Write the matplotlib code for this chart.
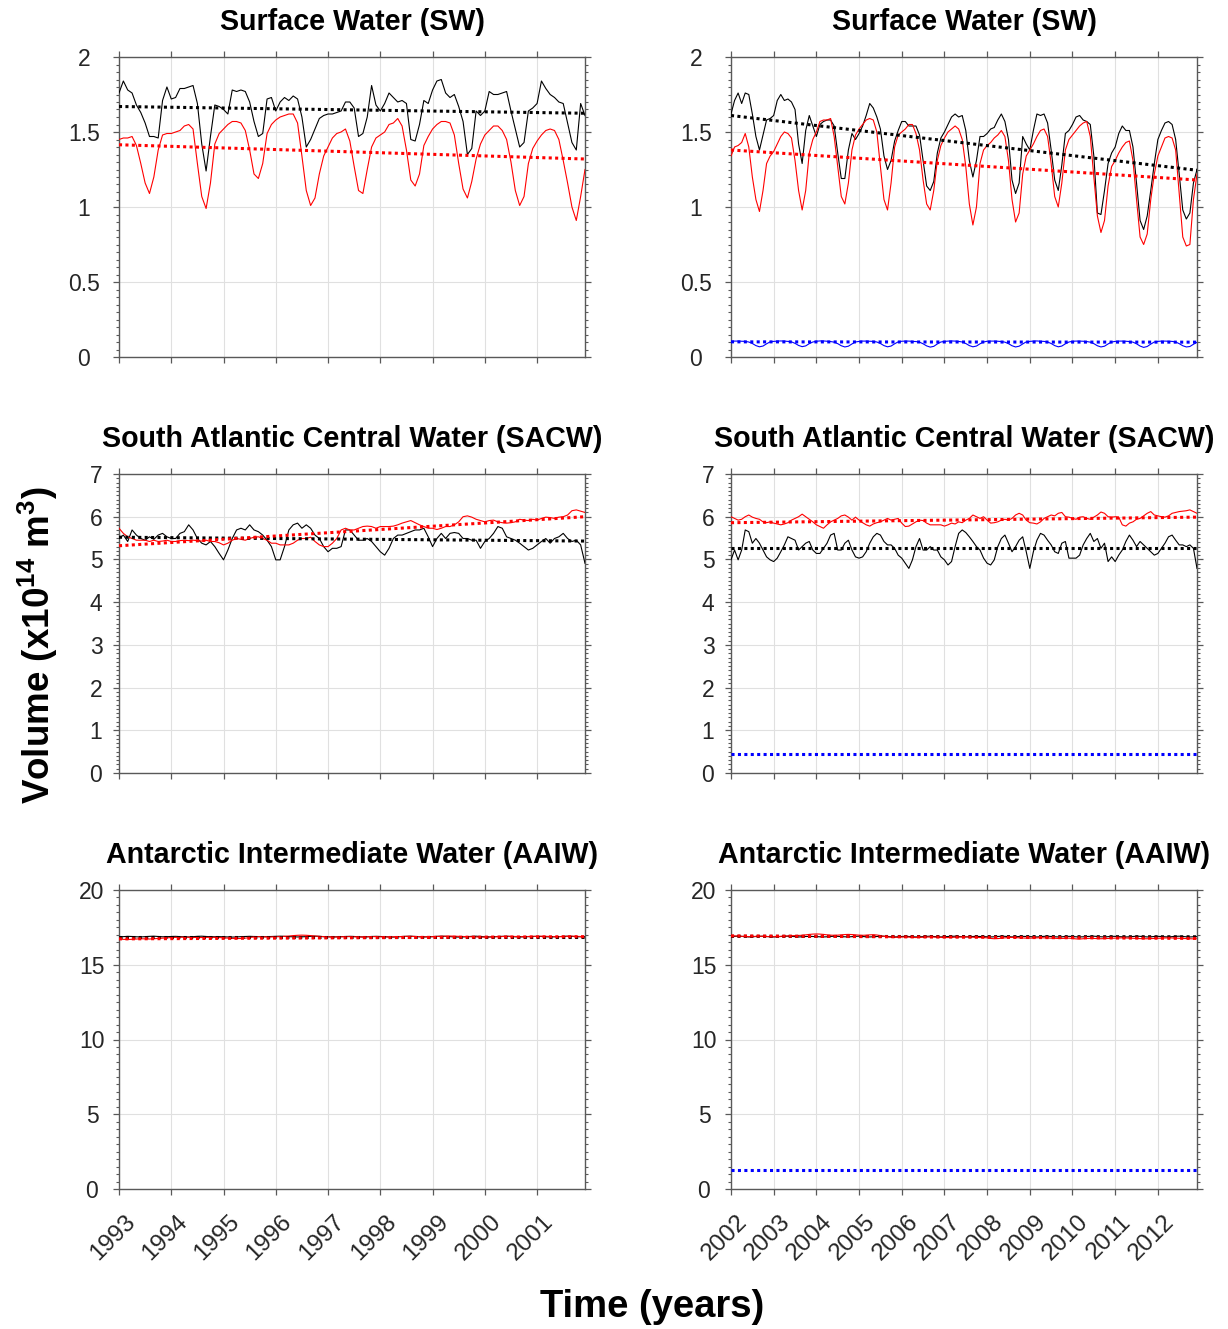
import numpy as np
import matplotlib
matplotlib.use('Agg')
import matplotlib.pyplot as plt
from matplotlib.ticker import MultipleLocator
from matplotlib.transforms import ScaledTranslation

plt.rcParams['font.family'] = ['Liberation Sans', 'DejaVu Sans']
plt.rcParams['mathtext.fontset'] = 'custom'
plt.rcParams['mathtext.rm'] = 'Liberation Sans'
plt.rcParams['mathtext.bf'] = 'Liberation Sans:bold'

# ---------------- data ----------------
years_left = list(range(1993, 2002))
years_right = list(range(2002, 2013))

titles = ['Surface Water (SW)', 'South Atlantic Central Water (SACW)',
          'Antarctic Intermediate Water (AAIW)']

# Surface water, 1993-2001 (monthly)
sw_obs_left = [
    1.76, 1.84, 1.78, 1.76, 1.68, 1.63, 1.56, 1.47, 1.47, 1.46, 1.71, 1.80,
    1.72, 1.73, 1.79, 1.79, 1.80, 1.81, 1.69, 1.42, 1.24, 1.47, 1.68, 1.67,
    1.65, 1.62, 1.78, 1.77, 1.78, 1.77, 1.70, 1.57, 1.47, 1.49, 1.72, 1.73,
    1.64, 1.70, 1.73, 1.71, 1.74, 1.72, 1.60, 1.40, 1.45, 1.52, 1.59, 1.61,
    1.62, 1.62, 1.63, 1.64, 1.70, 1.70, 1.66, 1.47, 1.49, 1.60, 1.81, 1.68,
    1.64, 1.69, 1.76, 1.73, 1.70, 1.71, 1.69, 1.45, 1.44, 1.55, 1.71, 1.69,
    1.78, 1.84, 1.85, 1.76, 1.73, 1.75, 1.67, 1.57, 1.35, 1.39, 1.64, 1.61,
    1.64, 1.77, 1.75, 1.75, 1.76, 1.77, 1.64, 1.52, 1.40, 1.43, 1.64, 1.66,
    1.69, 1.84, 1.79, 1.75, 1.73, 1.70, 1.69, 1.56, 1.43, 1.38, 1.69, 1.61]
sw_mod_left = [
    1.45, 1.46, 1.46, 1.47, 1.41, 1.29, 1.16, 1.09, 1.20, 1.38, 1.48, 1.49,
    1.49, 1.50, 1.51, 1.54, 1.55, 1.52, 1.29, 1.07, 0.99, 1.16, 1.42, 1.49,
    1.52, 1.55, 1.57, 1.57, 1.56, 1.51, 1.38, 1.22, 1.19, 1.29, 1.49, 1.55,
    1.58, 1.60, 1.61, 1.62, 1.62, 1.56, 1.34, 1.11, 1.01, 1.06, 1.22, 1.34,
    1.40, 1.46, 1.49, 1.50, 1.52, 1.44, 1.27, 1.11, 1.09, 1.25, 1.40, 1.46,
    1.48, 1.50, 1.55, 1.56, 1.59, 1.54, 1.38, 1.18, 1.14, 1.22, 1.41, 1.47,
    1.52, 1.55, 1.57, 1.57, 1.56, 1.48, 1.29, 1.12, 1.06, 1.17, 1.32, 1.42,
    1.48, 1.51, 1.54, 1.54, 1.51, 1.45, 1.30, 1.11, 1.01, 1.07, 1.29, 1.39,
    1.44, 1.48, 1.51, 1.52, 1.51, 1.45, 1.31, 1.16, 1.00, 0.91, 1.07, 1.25]
sw_obs_left_trend = [1.67, 1.625]
sw_mod_left_trend = [1.415, 1.32]

# Surface water, 2002-2012 (monthly)
sw_obs_right = [
    1.62, 1.71, 1.76, 1.69, 1.76, 1.75, 1.62, 1.47, 1.38, 1.48, 1.58, 1.59,
    1.61, 1.71, 1.75, 1.71, 1.72, 1.70, 1.65, 1.42, 1.29, 1.51, 1.61, 1.54,
    1.47, 1.55, 1.57, 1.58, 1.58, 1.54, 1.36, 1.19, 1.19, 1.38, 1.49, 1.45,
    1.49, 1.54, 1.61, 1.69, 1.66, 1.60, 1.52, 1.34, 1.25, 1.31, 1.44, 1.51,
    1.57, 1.57, 1.54, 1.54, 1.54, 1.48, 1.31, 1.14, 1.11, 1.17, 1.36, 1.46,
    1.50, 1.55, 1.60, 1.62, 1.60, 1.61, 1.51, 1.31, 1.20, 1.31, 1.47, 1.47,
    1.49, 1.52, 1.53, 1.58, 1.62, 1.57, 1.45, 1.18, 1.09, 1.16, 1.47, 1.42,
    1.38, 1.51, 1.62, 1.61, 1.62, 1.56, 1.38, 1.18, 1.11, 1.28, 1.49, 1.51,
    1.55, 1.60, 1.61, 1.58, 1.57, 1.55, 1.34, 0.96, 0.95, 1.11, 1.29, 1.36,
    1.40, 1.49, 1.54, 1.51, 1.51, 1.40, 1.16, 0.91, 0.85, 0.94, 1.11, 1.29,
    1.45, 1.51, 1.56, 1.57, 1.55, 1.45, 1.22, 0.98, 0.92, 0.96, 1.16, 1.25]
sw_mod_right = [
    1.34, 1.40, 1.41, 1.43, 1.49, 1.40, 1.20, 1.05, 0.97, 1.11, 1.29, 1.34,
    1.37, 1.42, 1.47, 1.50, 1.49, 1.46, 1.31, 1.11, 0.98, 1.11, 1.36, 1.45,
    1.50, 1.57, 1.58, 1.58, 1.59, 1.47, 1.27, 1.07, 1.02, 1.16, 1.38, 1.48,
    1.52, 1.55, 1.58, 1.59, 1.58, 1.50, 1.27, 1.05, 0.98, 1.16, 1.40, 1.48,
    1.50, 1.52, 1.55, 1.55, 1.49, 1.38, 1.18, 1.02, 0.98, 1.11, 1.31, 1.41,
    1.46, 1.50, 1.52, 1.54, 1.52, 1.45, 1.27, 1.02, 0.88, 1.00, 1.29, 1.38,
    1.41, 1.43, 1.46, 1.48, 1.51, 1.47, 1.31, 1.05, 0.90, 0.96, 1.22, 1.34,
    1.38, 1.42, 1.47, 1.51, 1.52, 1.47, 1.29, 1.07, 1.00, 1.16, 1.38, 1.45,
    1.48, 1.51, 1.54, 1.56, 1.57, 1.47, 1.20, 0.94, 0.83, 0.91, 1.14, 1.27,
    1.31, 1.36, 1.40, 1.43, 1.44, 1.31, 1.05, 0.80, 0.75, 0.82, 1.05, 1.22,
    1.34, 1.40, 1.46, 1.47, 1.46, 1.38, 1.09, 0.80, 0.74, 0.75, 1.05, 1.22]
sw_ref_right = [
    0.105, 0.106, 0.106, 0.105, 0.104, 0.100, 0.090, 0.076, 0.068, 0.073, 0.088, 0.101,
    0.104, 0.106, 0.107, 0.106, 0.104, 0.101, 0.091, 0.077, 0.069, 0.074, 0.089, 0.100,
    0.105, 0.107, 0.107, 0.105, 0.103, 0.099, 0.089, 0.075, 0.067, 0.072, 0.087, 0.100,
    0.104, 0.106, 0.106, 0.105, 0.104, 0.100, 0.090, 0.076, 0.068, 0.073, 0.088, 0.101,
    0.105, 0.106, 0.106, 0.104, 0.103, 0.099, 0.088, 0.074, 0.066, 0.071, 0.087, 0.100,
    0.104, 0.106, 0.107, 0.106, 0.104, 0.100, 0.090, 0.076, 0.068, 0.073, 0.088, 0.100,
    0.105, 0.106, 0.106, 0.105, 0.103, 0.099, 0.089, 0.075, 0.067, 0.072, 0.087, 0.101,
    0.104, 0.106, 0.107, 0.105, 0.104, 0.100, 0.090, 0.076, 0.068, 0.073, 0.088, 0.100,
    0.105, 0.106, 0.106, 0.105, 0.103, 0.099, 0.089, 0.075, 0.067, 0.072, 0.087, 0.100,
    0.104, 0.106, 0.106, 0.105, 0.103, 0.099, 0.088, 0.073, 0.064, 0.070, 0.086, 0.100,
    0.104, 0.106, 0.106, 0.105, 0.104, 0.100, 0.089, 0.075, 0.067, 0.070, 0.085, 0.098]
sw_obs_right_trend = [1.61, 1.245]
sw_mod_right_trend = [1.38, 1.18]
sw_ref_right_trend = [0.101, 0.099]

# SACW, 1993-2001
sacw_obs_left = [
    5.49, 5.57, 5.42, 5.69, 5.57, 5.49, 5.45, 5.53, 5.47, 5.57, 5.61, 5.53,
    5.49, 5.49, 5.61, 5.65, 5.81, 5.69, 5.49, 5.38, 5.34, 5.42, 5.30, 5.14,
    4.99, 5.22, 5.49, 5.69, 5.73, 5.69, 5.81, 5.69, 5.65, 5.57, 5.45, 5.30,
    4.99, 4.99, 5.30, 5.69, 5.81, 5.85, 5.73, 5.81, 5.73, 5.57, 5.49, 5.30,
    5.18, 5.26, 5.26, 5.30, 5.69, 5.69, 5.57, 5.45, 5.45, 5.49, 5.42, 5.30,
    5.18, 5.10, 5.26, 5.49, 5.57, 5.57, 5.61, 5.65, 5.69, 5.69, 5.73, 5.53,
    5.30, 5.49, 5.61, 5.49, 5.61, 5.63, 5.61, 5.49, 5.49, 5.45, 5.45, 5.26,
    5.42, 5.49, 5.61, 5.77, 5.73, 5.53, 5.49, 5.45, 5.38, 5.30, 5.22, 5.26,
    5.34, 5.42, 5.49, 5.38, 5.49, 5.53, 5.61, 5.49, 5.42, 5.45, 5.34, 4.91]
sacw_mod_left = [
    5.73, 5.61, 5.53, 5.49, 5.45, 5.45, 5.45, 5.42, 5.45, 5.42, 5.43, 5.45,
    5.42, 5.42, 5.44, 5.45, 5.44, 5.45, 5.44, 5.43, 5.45, 5.42, 5.42, 5.39,
    5.34, 5.38, 5.45, 5.49, 5.47, 5.45, 5.49, 5.52, 5.53, 5.49, 5.45, 5.38,
    5.38, 5.34, 5.34, 5.34, 5.38, 5.45, 5.49, 5.49, 5.52, 5.42, 5.34, 5.30,
    5.30, 5.38, 5.49, 5.69, 5.73, 5.69, 5.69, 5.73, 5.77, 5.78, 5.77, 5.73,
    5.77, 5.77, 5.77, 5.78, 5.81, 5.85, 5.88, 5.91, 5.86, 5.81, 5.77, 5.73,
    5.73, 5.70, 5.73, 5.77, 5.77, 5.81, 5.88, 6.00, 6.02, 5.99, 5.94, 5.91,
    5.88, 5.91, 5.92, 5.88, 5.86, 5.85, 5.86, 5.88, 5.94, 5.92, 5.91, 5.94,
    5.92, 5.96, 5.99, 5.98, 5.96, 5.99, 6.00, 6.04, 6.14, 6.16, 6.13, 6.10]
sacw_obs_left_trend = [5.52, 5.43]
sacw_mod_left_trend = [5.32, 6.00]

# SACW, 2002-2012
sacw_obs_right = [
    4.99, 5.22, 4.99, 5.22, 5.69, 5.65, 5.38, 5.49, 5.38, 5.22, 5.06, 4.99,
    4.95, 5.03, 5.18, 5.34, 5.53, 5.49, 5.45, 5.22, 5.30, 5.38, 5.42, 5.22,
    5.14, 5.14, 5.26, 5.38, 5.57, 5.61, 5.22, 5.22, 5.38, 5.45, 5.22, 5.06,
    5.03, 5.06, 5.18, 5.38, 5.53, 5.61, 5.57, 5.42, 5.34, 5.34, 5.26, 5.10,
    5.03, 4.91, 4.79, 4.99, 5.30, 5.49, 5.22, 5.22, 5.30, 5.22, 5.22, 5.06,
    4.99, 4.87, 4.95, 5.30, 5.61, 5.69, 5.63, 5.53, 5.42, 5.30, 5.22, 5.03,
    4.91, 4.87, 4.99, 5.30, 5.49, 5.57, 5.38, 5.18, 5.30, 5.45, 5.53, 5.18,
    4.79, 5.18, 5.45, 5.61, 5.57, 5.45, 5.34, 5.18, 5.14, 5.38, 5.42, 5.03,
    5.03, 5.03, 5.10, 5.34, 5.49, 5.61, 5.42, 5.49, 5.26, 5.38, 4.95, 5.06,
    4.95, 5.10, 5.22, 5.42, 5.57, 5.45, 5.30, 5.42, 5.34, 5.26, 5.18, 5.10,
    5.14, 5.26, 5.38, 5.53, 5.57, 5.45, 5.34, 5.34, 5.30, 5.34, 5.26, 4.79]
sacw_mod_right = [
    6.00, 5.96, 5.92, 5.94, 6.00, 6.04, 5.99, 5.96, 5.94, 5.88, 5.86, 5.88,
    5.85, 5.83, 5.81, 5.83, 5.86, 5.92, 5.96, 6.00, 6.06, 6.00, 5.94, 5.88,
    5.81, 5.77, 5.73, 5.81, 5.88, 5.92, 5.96, 6.02, 6.04, 5.99, 5.92, 5.99,
    5.92, 5.86, 5.81, 5.78, 5.83, 5.86, 5.88, 5.92, 5.96, 5.92, 5.94, 5.96,
    5.85, 5.77, 5.78, 5.83, 5.88, 5.92, 5.91, 5.85, 5.81, 5.81, 5.81, 5.81,
    5.78, 5.81, 5.85, 5.83, 5.88, 5.86, 5.92, 5.96, 6.04, 6.00, 5.96, 6.00,
    5.92, 5.85, 5.86, 5.88, 5.92, 5.94, 5.92, 5.96, 6.04, 6.08, 6.04, 5.92,
    5.86, 5.85, 5.83, 5.88, 5.96, 6.00, 6.04, 6.02, 6.08, 6.10, 6.00, 5.99,
    5.96, 5.94, 5.99, 6.00, 5.96, 5.94, 5.99, 6.04, 6.11, 6.08, 6.00, 5.99,
    6.00, 5.99, 5.81, 5.78, 5.85, 5.88, 5.94, 5.96, 6.02, 6.08, 6.12, 6.04,
    6.02, 6.00, 5.99, 6.02, 6.08, 6.10, 6.12, 6.13, 6.14, 6.16, 6.12, 6.08]
sacw_obs_right_trend = [5.26, 5.26]
sacw_mod_right_trend = [5.86, 5.99]
sacw_ref_right_trend = [0.44, 0.44]

# AAIW, 1993-2001
aaiw_obs_left = [
    16.86, 16.88, 16.90, 16.89, 16.87, 16.86, 16.88, 16.90, 16.91, 16.89, 16.87, 16.88,
    16.89, 16.90, 16.88, 16.87, 16.86, 16.88, 16.90, 16.91, 16.89, 16.88, 16.87, 16.88,
    16.87, 16.86, 16.85, 16.86, 16.88, 16.89, 16.90, 16.89, 16.88, 16.87, 16.88, 16.89,
    16.90, 16.91, 16.90, 16.88, 16.87, 16.86, 16.87, 16.88, 16.90, 16.91, 16.90, 16.88,
    16.87, 16.86, 16.87, 16.88, 16.89, 16.90, 16.89, 16.87, 16.86, 16.87, 16.89, 16.90,
    16.89, 16.88, 16.86, 16.85, 16.87, 16.89, 16.90, 16.91, 16.89, 16.87, 16.86, 16.87,
    16.88, 16.90, 16.91, 16.90, 16.88, 16.86, 16.85, 16.86, 16.88, 16.90, 16.91, 16.89,
    16.87, 16.86, 16.87, 16.89, 16.90, 16.91, 16.89, 16.87, 16.86, 16.87, 16.88, 16.89,
    16.90, 16.89, 16.87, 16.86, 16.87, 16.88, 16.90, 16.91, 16.90, 16.88, 16.87, 16.88]
aaiw_mod_left = [
    16.72, 16.70, 16.69, 16.70, 16.72, 16.74, 16.73, 16.72, 16.74, 16.76, 16.78, 16.80,
    16.82, 16.83, 16.84, 16.85, 16.84, 16.83, 16.82, 16.82, 16.83, 16.84, 16.83, 16.82,
    16.80, 16.78, 16.76, 16.75, 16.76, 16.78, 16.82, 16.86, 16.88, 16.87, 16.86, 16.86,
    16.87, 16.88, 16.90, 16.92, 16.95, 16.97, 16.98, 16.97, 16.95, 16.92, 16.90, 16.88,
    16.87, 16.86, 16.86, 16.87, 16.88, 16.88, 16.87, 16.86, 16.86, 16.87, 16.88, 16.88,
    16.87, 16.86, 16.86, 16.87, 16.88, 16.89, 16.90, 16.90, 16.89, 16.88, 16.87, 16.87,
    16.88, 16.89, 16.90, 16.91, 16.92, 16.91, 16.90, 16.89, 16.88, 16.87, 16.86, 16.85,
    16.85, 16.86, 16.87, 16.88, 16.89, 16.90, 16.90, 16.89, 16.88, 16.88, 16.89, 16.90,
    16.90, 16.91, 16.90, 16.89, 16.88, 16.88, 16.89, 16.90, 16.91, 16.90, 16.89, 16.88]
aaiw_obs_left_trend = [16.88, 16.88]
aaiw_mod_left_trend = [16.73, 16.88]

# AAIW, 2002-2012
aaiw_obs_right = [
    16.88, 16.90, 16.91, 16.90, 16.88, 16.86, 16.87, 16.89, 16.90, 16.91, 16.89, 16.87,
    16.86, 16.87, 16.89, 16.90, 16.91, 16.90, 16.88, 16.86, 16.87, 16.89, 16.90, 16.89,
    16.88, 16.87, 16.86, 16.87, 16.89, 16.91, 16.90, 16.88, 16.87, 16.86, 16.88, 16.90,
    16.91, 16.89, 16.87, 16.86, 16.87, 16.89, 16.90, 16.91, 16.89, 16.87, 16.86, 16.87,
    16.89, 16.90, 16.89, 16.87, 16.86, 16.87, 16.88, 16.90, 16.91, 16.89, 16.87, 16.86,
    16.87, 16.89, 16.90, 16.91, 16.89, 16.87, 16.86, 16.87, 16.89, 16.90, 16.89, 16.88,
    16.87, 16.86, 16.87, 16.89, 16.91, 16.90, 16.88, 16.86, 16.87, 16.89, 16.90, 16.89,
    16.88, 16.87, 16.86, 16.88, 16.90, 16.91, 16.89, 16.87, 16.86, 16.87, 16.89, 16.90,
    16.89, 16.87, 16.86, 16.87, 16.89, 16.90, 16.91, 16.89, 16.87, 16.86, 16.88, 16.90,
    16.90, 16.88, 16.87, 16.86, 16.87, 16.89, 16.91, 16.90, 16.88, 16.86, 16.87, 16.89,
    16.90, 16.89, 16.87, 16.86, 16.88, 16.90, 16.91, 16.89, 16.87, 16.86, 16.87, 16.88]
aaiw_mod_right = [
    16.92, 16.93, 16.92, 16.90, 16.89, 16.88, 16.89, 16.90, 16.91, 16.90, 16.89, 16.88,
    16.88, 16.89, 16.90, 16.92, 16.93, 16.94, 16.95, 16.96, 16.97, 17.00, 17.03, 17.05,
    17.06, 17.05, 17.03, 17.00, 16.98, 16.97, 16.98, 17.00, 17.02, 17.03, 17.02, 17.00,
    16.98, 16.97, 16.98, 17.00, 17.01, 16.99, 16.95, 16.90, 16.86, 16.84, 16.83, 16.84,
    16.85, 16.86, 16.85, 16.83, 16.82, 16.83, 16.84, 16.85, 16.86, 16.85, 16.84, 16.83,
    16.82, 16.82, 16.83, 16.84, 16.85, 16.86, 16.87, 16.86, 16.84, 16.83, 16.82, 16.82,
    16.80, 16.76, 16.74, 16.75, 16.78, 16.80, 16.82, 16.83, 16.82, 16.80, 16.79, 16.78,
    16.78, 16.79, 16.80, 16.81, 16.80, 16.79, 16.78, 16.77, 16.76, 16.76, 16.77, 16.78,
    16.76, 16.73, 16.72, 16.74, 16.76, 16.77, 16.76, 16.75, 16.74, 16.75, 16.76, 16.77,
    16.78, 16.79, 16.80, 16.79, 16.78, 16.77, 16.76, 16.75, 16.74, 16.74, 16.75, 16.76,
    16.77, 16.78, 16.79, 16.80, 16.79, 16.78, 16.77, 16.76, 16.75, 16.74, 16.73, 16.74]
aaiw_obs_right_trend = [16.90, 16.87]
aaiw_mod_right_trend = [16.93, 16.76]
aaiw_ref_right_trend = [1.27, 1.27]

# axis settings per row
y_limits = [(0, 2), (0, 7), (0, 20)]
y_major = [0.5, 1, 5]

# ---------------- figure ----------------
W, H = 1228, 1329
fig = plt.figure(figsize=(W / 100, H / 100), dpi=100)

col_left_px = [119, 731]
ax_w_px = 466
row_top_px = [57, 474, 890]
row_bot_px = [357, 773, 1189]
label_center_px = [35, 23, 27]   # distance of y tick-label centres from axis

panels = [
    [dict(obs=sw_obs_left, mod=sw_mod_left, ref=None,
          obs_tr=sw_obs_left_trend, mod_tr=sw_mod_left_trend, ref_tr=None),
     dict(obs=sw_obs_right, mod=sw_mod_right, ref=sw_ref_right,
          obs_tr=sw_obs_right_trend, mod_tr=sw_mod_right_trend, ref_tr=sw_ref_right_trend)],
    [dict(obs=sacw_obs_left, mod=sacw_mod_left, ref=None,
          obs_tr=sacw_obs_left_trend, mod_tr=sacw_mod_left_trend, ref_tr=None),
     dict(obs=sacw_obs_right, mod=sacw_mod_right, ref=None,
          obs_tr=sacw_obs_right_trend, mod_tr=sacw_mod_right_trend, ref_tr=sacw_ref_right_trend)],
    [dict(obs=aaiw_obs_left, mod=aaiw_mod_left, ref=None,
          obs_tr=aaiw_obs_left_trend, mod_tr=aaiw_mod_left_trend, ref_tr=None),
     dict(obs=aaiw_obs_right, mod=aaiw_mod_right, ref=None,
          obs_tr=aaiw_obs_right_trend, mod_tr=aaiw_mod_right_trend, ref_tr=aaiw_ref_right_trend)],
]

spine_col = '0.35'
dot = (0, (1, 1.1))

for r in range(3):
    for c in range(2):
        p = panels[r][c]
        yrs = years_left if c == 0 else years_right
        x0 = yrs[0]
        x1 = yrs[-1] + 11 / 12
        left = col_left_px[c] / W
        bottom = 1 - row_bot_px[r] / H
        height = (row_bot_px[r] - row_top_px[r]) / H
        ax = fig.add_axes([left, bottom, ax_w_px / W, height])

        t = x0 + np.arange(len(p['obs'])) / 12.0
        ax.plot(t, p['obs'], color='black', lw=0.8, zorder=3)
        ax.plot(t, p['mod'], color='red', lw=0.8, zorder=3)
        if p['ref'] is not None:
            ax.plot(t, p['ref'], color='blue', lw=0.8, zorder=3)
        ax.plot([x0, x1], p['obs_tr'], color='black', lw=2.2, ls=dot, zorder=4)
        ax.plot([x0, x1], p['mod_tr'], color='red', lw=2.2, ls=dot, zorder=4)
        if p['ref_tr'] is not None:
            ax.plot([x0, x1], p['ref_tr'], color='blue', lw=2.2, ls=dot, zorder=4)

        ax.set_xlim(x0, x1)
        ax.set_ylim(*y_limits[r])
        ax.set_xticks(yrs)
        ax.yaxis.set_major_locator(MultipleLocator(y_major[r]))
        ax.yaxis.set_minor_locator(MultipleLocator(y_major[r] / 10))
        ax.grid(True, which='major', color='0.88', lw=0.8)
        ax.set_axisbelow(True)
        for s in ax.spines.values():
            s.set_color(spine_col)
            s.set_linewidth(1.0)
        ax.tick_params(axis='both', which='both', direction='out', color=spine_col,
                       top=True, right=True, labelcolor='0.15', labelsize=16.5)
        ax.tick_params(axis='both', which='major', length=4.5, width=0.9)
        ax.tick_params(axis='y', which='minor', length=2.5, width=0.8)
        ax.tick_params(axis='x', which='minor', bottom=False, top=False)
        tl = 4.5 * 100 / 72
        ax.tick_params(axis='y', which='major',
                       pad=(label_center_px[r] - tl) * 72 / 100)
        ax.set_yticklabels([('%g' % v) for v in ax.get_yticks()])
        for lbl in ax.get_yticklabels():
            lbl.set_ha('center')
        if r == 2:
            ax.set_xticklabels([str(y) for y in yrs], rotation=45, ha='right',
                               va='top', rotation_mode='anchor', fontsize=17.5)
            ax.tick_params(axis='x', which='major', pad=11)
            shift = ScaledTranslation(5 / 100, 0, fig.dpi_scale_trans)
            for lbl in ax.get_xticklabels():
                lbl.set_transform(lbl.get_transform() + shift)
        else:
            ax.set_xticklabels([])
        ax.set_title(titles[r], fontsize=20.6, fontweight='bold', pad=19.5)

fig.text(38 / W, 1 - 645 / H, r'Volume (x10$^{\mathbf{14}}$ m$^{\mathbf{3}}$)',
         rotation=90, ha='center', va='center', fontsize=26.5, fontweight='bold')
fig.text(652 / W, 1 - 1307 / H, 'Time (years)', ha='center', va='center',
         fontsize=27.5, fontweight='bold')

fig.savefig('out.png', dpi=100)
